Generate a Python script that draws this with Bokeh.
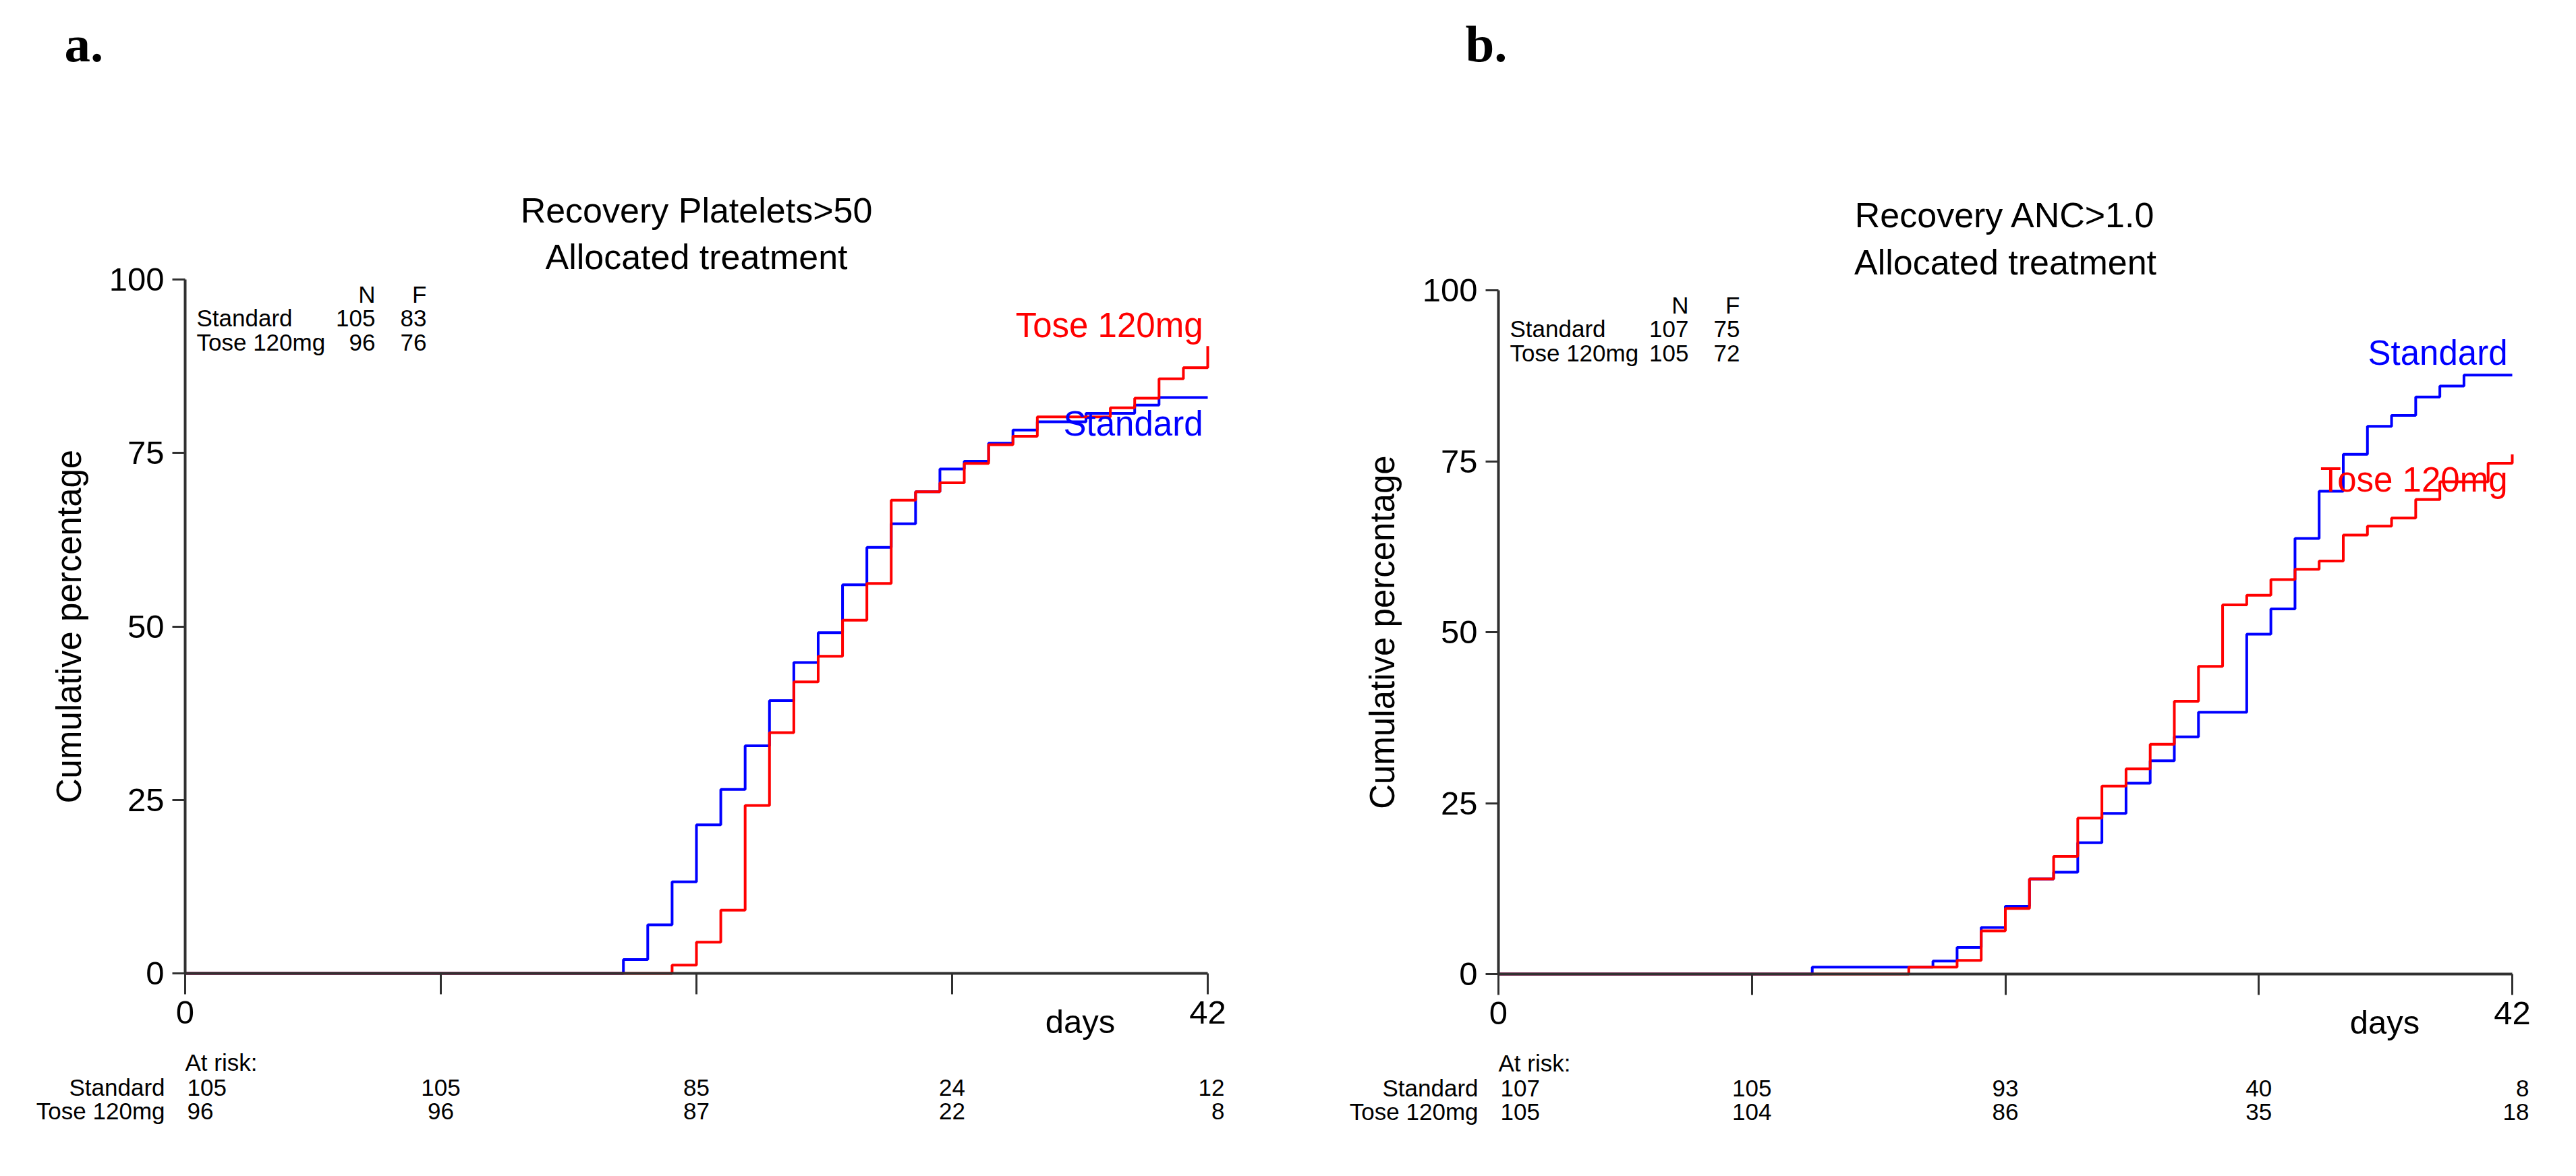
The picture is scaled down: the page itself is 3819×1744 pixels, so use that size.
import math
from bokeh.plotting import figure
from bokeh.layouts import row
from bokeh.models import Range1d, FixedTicker, Label, CustomJSTickFormatter
from bokeh.embed import file_html
from bokeh.resources import INLINE

# ---------------- data ----------------
x_ticks = [0, 10.5, 21, 31.5, 42]
y_ticks = [0, 25, 50, 75, 100]
groups = ["Standard", "Tose 120mg"]

# Panel a: Recovery Platelets>50
a_title = ["Recovery Platelets>50", "Allocated treatment"]
a_std_days = [0, 18, 19, 20, 21, 22, 23, 24, 25, 26, 27, 28, 29, 30, 31, 32, 33, 34, 35, 37, 39, 40, 42]
a_std_pct = [0, 2.0, 7.0, 13.2, 21.4, 26.5, 32.8, 39.3, 44.8, 49.1, 56.0, 61.4, 64.8, 69.4, 72.7, 73.8,
             76.4, 78.3, 79.5, 80.7, 81.9, 83.0, 83.0]
a_tose_days = [0, 20, 21, 22, 23, 24, 25, 26, 27, 28, 29, 30, 31, 32, 33, 34, 35, 38, 39, 40, 41, 42]
a_tose_pct = [0, 1.2, 4.5, 9.1, 24.2, 34.7, 42.0, 45.7, 50.9, 56.2, 68.2, 69.4, 70.7, 73.5, 76.2, 77.4,
              80.2, 81.5, 82.9, 85.7, 87.3, 90.4]
a_N = [105, 96]
a_F = [83, 76]
a_risk_std = [105, 105, 85, 24, 12]
a_risk_tose = [96, 96, 87, 22, 8]

# Panel b: Recovery ANC>1.0
b_title = ["Recovery ANC>1.0", "Allocated treatment"]
b_std_days = [0, 13, 18, 19, 20, 21, 22, 23, 24, 25, 26, 27, 28, 29, 31, 32, 33, 34, 35, 36, 37, 38, 39, 40, 42]
b_std_pct = [0, 1.0, 1.9, 3.9, 6.8, 9.9, 13.9, 14.9, 19.2, 23.5, 27.9, 31.2, 34.7, 38.3, 49.7, 53.4, 63.7,
             70.6, 76.0, 80.1, 81.7, 84.4, 86.0, 87.6, 87.6]
b_tose_days = [0, 17, 19, 20, 21, 22, 23, 24, 25, 26, 27, 28, 29, 30, 31, 32, 33, 34, 35, 36, 37, 38, 39, 41, 42]
b_tose_pct = [0, 1.0, 2.0, 6.3, 9.6, 13.9, 17.2, 22.8, 27.5, 30.0, 33.6, 39.9, 45.0, 54.0, 55.4, 57.7, 59.2,
              60.4, 64.2, 65.5, 66.7, 69.4, 72.0, 74.7, 76.0]
b_N = [107, 105]
b_F = [75, 72]
b_risk_std = [107, 105, 93, 40, 8]
b_risk_tose = [105, 104, 86, 35, 18]

FONT = "Liberation Sans"
SERIF = "Liberation Serif"
BLUE = "#0000FF"
RED = "#FF0000"
AXIS = "#303030"

W, H = 1908, 1740
XMAX, YMAX = 42.0, 100.0


def lab(p, x, y, text, size, color="black", align="left", xo=0, yo=0, font=FONT, style="normal",
        baseline="alphabetic", angle=0.0):
    p.add_layout(Label(x=x, y=y, text=text, x_offset=xo, y_offset=yo, text_font=font,
                       text_font_size=size, text_color=color, text_align=align,
                       text_baseline=baseline, text_font_style=style, angle=angle))


def make_panel(letter, title, std_d, std_p, tose_d, tose_p, N, F, risk_std, risk_tose,
               left, right, top, bottom, title_offs, letter_off, std_lab_y, tose_lab_y):
    # left/right/top/bottom: pixel distances of the data box (0..42, 0..100) from canvas edges
    fw = W - left - right
    fh = H - top - bottom
    ppx = fw / XMAX
    ppy = fh / YMAX
    xr = Range1d(-left / ppx, XMAX + right / ppx)
    yr = Range1d(-bottom / ppy, YMAX + top / ppy)
    p = figure(width=W, height=H, x_range=xr, y_range=yr,
               output_backend="svg", toolbar_location=None,
               min_border_left=0, min_border_right=0, min_border_top=0, min_border_bottom=0)
    p.title.visible = False
    p.outline_line_color = None
    p.grid.visible = False
    p.background_fill_color = "white"
    p.border_fill_color = "white"

    # axes
    xa = p.xaxis[0]
    xa.fixed_location = 0
    xa.bounds = (0, XMAX)
    xa.ticker = FixedTicker(ticks=x_ticks)
    xa.formatter = CustomJSTickFormatter(code="return (tick === 0 || tick === 42) ? String(tick) : '';")
    xa.axis_line_width = 4
    xa.axis_line_color = AXIS
    xa.major_tick_line_width = 3
    xa.major_tick_line_color = AXIS
    xa.major_tick_out = 31
    xa.major_tick_in = 0
    xa.minor_tick_line_color = None
    xa.major_label_text_font = FONT
    xa.major_label_text_font_size = "49px"
    xa.major_label_text_color = "black"
    xa.major_label_standoff = 10

    ya = p.yaxis[0]
    ya.fixed_location = 0
    ya.bounds = (0, YMAX)
    ya.ticker = FixedTicker(ticks=y_ticks)
    ya.axis_line_width = 4
    ya.axis_line_color = AXIS
    ya.major_tick_line_width = 3
    ya.major_tick_line_color = AXIS
    ya.major_tick_out = 19
    ya.major_tick_in = 0
    ya.minor_tick_line_color = None
    ya.major_label_text_font = FONT
    ya.major_label_text_font_size = "49px"
    ya.major_label_text_color = "black"
    ya.major_label_standoff = 12

    # y axis title (rotated), centred on the 0..100 span
    lab(p, 0, 50, "Cumulative percentage", "51px", align="center", xo=-172, angle=math.pi / 2)

    # curves
    p.step(std_d, std_p, mode="after", line_color=BLUE, line_width=4)
    p.step(tose_d, tose_p, mode="after", line_color=RED, line_width=4)

    # curve labels
    lab(p, XMAX, std_lab_y, groups[0], "51px", color=BLUE, align="right", xo=-7, yo=15)
    lab(p, XMAX, tose_lab_y, groups[1], "51px", color=RED, align="right", xo=-7, yo=15)

    # titles
    lab(p, XMAX / 2, YMAX, title[0], "52px", align="center", yo=title_offs[0])
    lab(p, XMAX / 2, YMAX, title[1], "52px", align="center", yo=title_offs[1])

    # panel letter
    lab(p, 0, YMAX, letter, "77px", font=SERIF, style="bold", xo=letter_off[0], yo=letter_off[1])

    # N / F table
    lab(p, 0, YMAX, "N", "35px", align="right", xo=282, yo=-22)
    lab(p, 0, YMAX, "F", "35px", align="right", xo=358, yo=-22)
    for i, g in enumerate(groups):
        yo = -57 - 36 * i
        lab(p, 0, YMAX, g, "35px", align="left", xo=17, yo=yo)
        lab(p, 0, YMAX, str(N[i]), "35px", align="right", xo=282, yo=yo)
        lab(p, 0, YMAX, str(F[i]), "35px", align="right", xo=358, yo=yo)

    # x axis title
    lab(p, XMAX, 0, "days", "49px", align="center", xo=-189, yo=-71)

    # at-risk table
    lab(p, 0, 0, "At risk:", "35px", align="left", yo=-132)
    for i, (g, vals) in enumerate(zip(groups, [risk_std, risk_tose])):
        yo = -169 - 35 * i
        lab(p, 0, 0, g, "35px", align="right", xo=-30, yo=yo)
        for j, (t, v) in enumerate(zip(x_ticks, vals)):
            if j == 0:
                lab(p, t, 0, str(v), "35px", align="left", xo=3, yo=yo)
            elif j == len(x_ticks) - 1:
                lab(p, t, 0, str(v), "35px", align="right", xo=25, yo=yo)
            else:
                lab(p, t, 0, str(v), "35px", align="center", yo=yo)
    return p


# canvas a spans page x 0..1908, canvas b spans 1908..3816 (Bokeh page has no body margin)
pa = make_panel("a.", a_title, a_std_days, a_std_pct, a_tose_days, a_tose_pct, a_N, a_F,
                a_risk_std, a_risk_tose, left=274, right=118, top=414, bottom=297,
                title_offs=(103, 34), letter_off=(-179, 350), std_lab_y=77.7, tose_lab_y=91.9)
pb = make_panel("b.", b_title, b_std_days, b_std_pct, b_tose_days, b_tose_pct, b_N, b_F,
                b_risk_std, b_risk_tose, left=313, right=92, top=430, bottom=296,
                title_offs=(112, 42), letter_off=(-49, 366), std_lab_y=89.3, tose_lab_y=70.8)

layout = row(pa, pb)
open("out.html", "w").write(file_html(layout, INLINE))
